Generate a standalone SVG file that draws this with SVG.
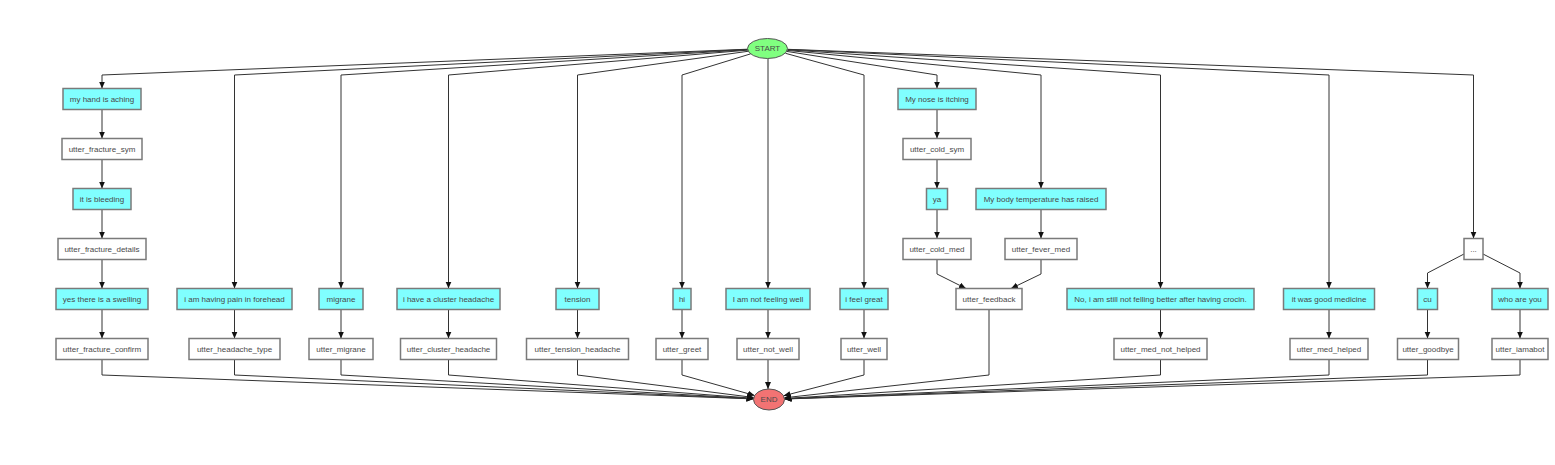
<svg xmlns="http://www.w3.org/2000/svg" width="1555" height="465" viewBox="0 0 1555 465">
<style>
.u{fill:#80ffff;stroke:#7a7a7a;stroke-width:1.5}
.a{fill:#ffffff;stroke:#7a7a7a;stroke-width:1.5}
text{font-family:"Liberation Sans",Arial,sans-serif;font-size:8px;fill:#4a4a4a;text-anchor:middle;dominant-baseline:central}
.e{fill:none;stroke:#333;stroke-width:1;marker-end:url(#ar)}
</style>
<defs>
<marker id="ar" markerUnits="userSpaceOnUse" markerWidth="8" markerHeight="7" refX="7" refY="3" orient="auto">
<path d="M0,0 L7,3 L0,6 z" fill="#111"/>
</marker>
</defs>
<rect width="1555" height="465" fill="#fff"/>
<g id="connectors">
<path class="e" d="M748,49.2 L102,75 L102,88.5"/>
<path class="e" d="M102,109.5 L102,138.5"/>
<path class="e" d="M102,159.5 L102,188.5"/>
<path class="e" d="M102,209.5 L102,238.5"/>
<path class="e" d="M102,259.5 L102,288.5"/>
<path class="e" d="M102,309.5 L102,338.5"/>
<path class="e" d="M102,359.5 L102,375 L753.5,398.9"/>
<path class="e" d="M748,49.4 L234.5,75 L234.5,288.5"/>
<path class="e" d="M234.5,309.5 L234.5,338.5"/>
<path class="e" d="M234.5,359.5 L234.5,375 L753.5,398.8"/>
<path class="e" d="M748.1,49.7 L341,75 L341,288.5"/>
<path class="e" d="M341,309.5 L341,338.5"/>
<path class="e" d="M341,359.5 L341,375 L753.6,398.6"/>
<path class="e" d="M748.2,50.1 L448.5,75 L448.5,288.5"/>
<path class="e" d="M448.5,309.5 L448.5,338.5"/>
<path class="e" d="M448.5,359.5 L448.5,375 L753.8,398.3"/>
<path class="e" d="M748.7,51.2 L577.5,75 L577.5,288.5"/>
<path class="e" d="M577.5,309.5 L577.5,338.5"/>
<path class="e" d="M577.5,359.5 L577.5,375 L753.8,397.5"/>
<path class="e" d="M750.8,53.8 L682,75 L682,288.5"/>
<path class="e" d="M682,309.5 L682,338.5"/>
<path class="e" d="M682,359.5 L682,375 L754.7,395.5"/>
<path class="e" d="M768,58.5 L768,288.5"/>
<path class="e" d="M768,309.5 L768,338.5"/>
<path class="e" d="M768,359.5 L768,389"/>
<path class="e" d="M785.5,53.3 L864,75 L864,288.5"/>
<path class="e" d="M864,309.5 L864,338.5"/>
<path class="e" d="M864,359.5 L864,375 L783.5,395.8"/>
<path class="e" d="M786.7,51.4 L937,75 L937,88.5"/>
<path class="e" d="M937,109.5 L937,138.5"/>
<path class="e" d="M937,159.5 L937,188.5"/>
<path class="e" d="M937,209.5 L937,238.5"/>
<path class="e" d="M937,259.5 L937,274 L966,288.5"/>
<path class="e" d="M787.2,50.4 L1041,75 L1041,188.5"/>
<path class="e" d="M1041,209.5 L1041,238.5"/>
<path class="e" d="M1041,259.5 L1041,274 L1011,288.5"/>
<path class="e" d="M989,309.5 L989,375 L784.3,397.8"/>
<path class="e" d="M787.4,49.8 L1160.5,75 L1160.5,288.5"/>
<path class="e" d="M1160.5,309.5 L1160.5,338.5"/>
<path class="e" d="M1160.5,359.5 L1160.5,375 L784.4,398.5"/>
<path class="e" d="M787.5,49.4 L1329,75 L1329,288.5"/>
<path class="e" d="M1329,309.5 L1329,338.5"/>
<path class="e" d="M1329,359.5 L1329,375 L784.5,398.8"/>
<path class="e" d="M787.5,49.3 L1473.5,75 L1473.5,238.5"/>
<path class="e" d="M1464,254 L1427.5,273 L1427.5,288.5"/>
<path class="e" d="M1483,254 L1520,273 L1520,288.5"/>
<path class="e" d="M1427.5,309.5 L1427.5,338.5"/>
<path class="e" d="M1520,309.5 L1520,338.5"/>
<path class="e" d="M1427.5,359.5 L1427.5,375 L784.5,398.9"/>
<path class="e" d="M1520,359.5 L1520,375 L784.5,399"/>
</g>
<g id="start"><ellipse cx="767.5" cy="48.5" rx="20" ry="10" fill="#80ff80" stroke="#555" stroke-width="1"/><text x="767.5" y="48.5">START</text></g>
<g id="end"><ellipse cx="769" cy="399.5" rx="15.5" ry="10.5" fill="#f27373" stroke="#555" stroke-width="1"/><text x="769" y="399.5">END</text></g>
<g id="n1"><rect class="u" x="63" y="88.5" width="78" height="21"/><text x="102" y="99">my hand is aching</text></g>
<g id="n2"><rect class="a" x="62" y="138.5" width="80" height="21"/><text x="102" y="149">utter_fracture_sym</text></g>
<g id="n3"><rect class="u" x="73" y="188.5" width="58" height="21"/><text x="102" y="199">it is bleeding</text></g>
<g id="n4"><rect class="a" x="58" y="238.5" width="88" height="21"/><text x="102" y="249">utter_fracture_details</text></g>
<g id="n5"><rect class="u" x="56" y="288.5" width="92" height="21"/><text x="102" y="299">yes there is a swelling</text></g>
<g id="n6"><rect class="a" x="56" y="338.5" width="92" height="21"/><text x="102" y="349">utter_fracture_confirm</text></g>
<g id="n7"><rect class="u" x="177" y="288.5" width="115" height="21"/><text x="234.5" y="299">i am having pain in forehead</text></g>
<g id="n8"><rect class="a" x="189" y="338.5" width="91" height="21"/><text x="234.5" y="349">utter_headache_type</text></g>
<g id="n9"><rect class="u" x="319" y="288.5" width="44" height="21"/><text x="341" y="299">migrane</text></g>
<g id="n10"><rect class="a" x="309" y="338.5" width="64" height="21"/><text x="341" y="349">utter_migrane</text></g>
<g id="n11"><rect class="u" x="397" y="288.5" width="103" height="21"/><text x="448.5" y="299">i have a cluster headache</text></g>
<g id="n12"><rect class="a" x="400.5" y="338.5" width="96" height="21"/><text x="448.5" y="349">utter_cluster_headache</text></g>
<g id="n13"><rect class="u" x="556" y="288.5" width="43" height="21"/><text x="577.5" y="299">tension</text></g>
<g id="n14"><rect class="a" x="526.5" y="338.5" width="102" height="21"/><text x="577.5" y="349">utter_tension_headache</text></g>
<g id="n15"><rect class="u" x="673" y="288.5" width="18" height="21"/><text x="682" y="299">hi</text></g>
<g id="n16"><rect class="a" x="656" y="338.5" width="52" height="21"/><text x="682" y="349">utter_greet</text></g>
<g id="n17"><rect class="u" x="726" y="288.5" width="84" height="21"/><text x="768" y="299">I am not feeling well</text></g>
<g id="n18"><rect class="a" x="737" y="338.5" width="62" height="21"/><text x="768" y="349">utter_not_well</text></g>
<g id="n19"><rect class="u" x="840" y="288.5" width="48" height="21"/><text x="864" y="299">i feel great</text></g>
<g id="n20"><rect class="a" x="841" y="338.5" width="46" height="21"/><text x="864" y="349">utter_well</text></g>
<g id="n21"><rect class="u" x="898" y="88.5" width="78" height="21"/><text x="937" y="99">My nose is itching</text></g>
<g id="n22"><rect class="a" x="903" y="138.5" width="68" height="21"/><text x="937" y="149">utter_cold_sym</text></g>
<g id="n23"><rect class="u" x="926.5" y="188.5" width="21" height="21"/><text x="937" y="199">ya</text></g>
<g id="n24"><rect class="a" x="903" y="238.5" width="68" height="21"/><text x="937" y="249">utter_cold_med</text></g>
<g id="n25"><rect class="u" x="976" y="188.5" width="130" height="21"/><text x="1041" y="199">My body temperature has raised</text></g>
<g id="n26"><rect class="a" x="1005" y="238.5" width="72" height="21"/><text x="1041" y="249">utter_fever_med</text></g>
<g id="n27"><rect class="a" x="956" y="288.5" width="66" height="21"/><text x="989" y="299">utter_feedback</text></g>
<g id="n28"><rect class="u" x="1067" y="288.5" width="187" height="21"/><text x="1160.5" y="299">No, i am still not felling better after having crocin.</text></g>
<g id="n29"><rect class="a" x="1114" y="338.5" width="93" height="21"/><text x="1160.5" y="349">utter_med_not_helped</text></g>
<g id="n30"><rect class="u" x="1283.5" y="288.5" width="91" height="21"/><text x="1329" y="299">it was good medicine</text></g>
<g id="n31"><rect class="a" x="1290" y="338.5" width="78" height="21"/><text x="1329" y="349">utter_med_helped</text></g>
<g id="n32"><rect class="a" x="1464" y="238.5" width="19" height="21"/><text x="1473.5" y="249">...</text></g>
<g id="n33"><rect class="u" x="1417.5" y="288.5" width="20" height="21"/><text x="1427.5" y="299">cu</text></g>
<g id="n34"><rect class="u" x="1492" y="288.5" width="56" height="21"/><text x="1520" y="299">who are you</text></g>
<g id="n35"><rect class="a" x="1397.5" y="338.5" width="61" height="21"/><text x="1428" y="349">utter_goodbye</text></g>
<g id="n36"><rect class="a" x="1492" y="338.5" width="56" height="21"/><text x="1520" y="349">utter_iamabot</text></g>
</svg>
